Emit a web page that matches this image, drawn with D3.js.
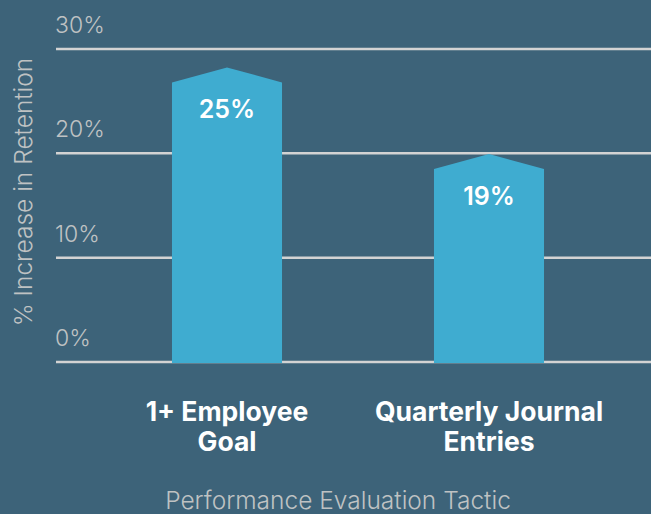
<!DOCTYPE html>
<html>
<head>
<meta charset="utf-8">
<script src="https://cdn.jsdelivr.net/npm/d3@7"></script>
<style>
  html, body { margin: 0; padding: 0; background: #3d6379; }
  svg { display: block; }
</style>
</head>
<body>
<svg id="chart" width="651" height="514"></svg>
<script>
// --- data ---
const categories = [["1+ Employee", "Goal"], ["Quarterly Journal", "Entries"]];
const valueLabels = ["25%", "19%"];
// bar heights as drawn in the original graphic (shoulder of the arrow shape)
const barValues = [26.8, 18.5];
const yTicks = [0, 10, 20, 30];

const yTitle = "% Increase in Retention";
const xTitle = "Performance Evaluation Tactic";

// --- layout ---
const W = 651, H = 514;
const GRID_LEFT = 56;
const PEAK = 15; // px the arrow tip sits above the shoulder
const BG = "#3d6379", BAR = "#3facd0", GRID = "#d3d3d3", MUTED = "#bfc2c3";
const FONT = "Inter, 'Open Sans', sans-serif";

const svg = d3.select("#chart");
svg.append("rect").attr("width", W).attr("height", H).attr("fill", BG);

const y = d3.scaleLinear().domain([0, 30]).range([362, 49]);
const x = d3.scaleBand()
    .domain(d3.range(categories.length))
    .range([96, 620])
    .paddingInner(0.58)
    .paddingOuter(0.29);

// gridlines + tick labels
const ticks = svg.append("g").selectAll("g").data(yTicks).enter().append("g");
ticks.append("line")
    .attr("x1", GRID_LEFT).attr("x2", W)
    .attr("y1", (d) => y(d)).attr("y2", (d) => y(d))
    .attr("stroke", GRID).attr("stroke-width", 2.5);
ticks.append("text")
    .attr("x", GRID_LEFT - 1).attr("y", (d) => y(d) - 16)
    .attr("fill", MUTED)
    .style("font-family", FONT).style("font-weight", 300).style("font-size", "23px")
    .text((d) => d + "%");

// bars (arrow-topped)
svg.append("g").selectAll("path").data(barValues).enter().append("path")
    .attr("fill", BAR)
    .attr("d", (d, i) => {
        const x0 = x(i), x1 = x(i) + x.bandwidth(), xm = x(i) + x.bandwidth() / 2;
        const top = y(d), base = y(0) + 1;
        return `M${x0},${base}V${top}L${xm},${top - PEAK}L${x1},${top}V${base}Z`;
    });

// value labels
svg.append("g").selectAll("text").data(barValues).enter().append("text")
    .attr("x", (d, i) => x(i) + x.bandwidth() / 2)
    .attr("y", (d) => y(d) + 36)
    .attr("text-anchor", "middle").attr("fill", "#ffffff")
    .style("font-family", FONT).style("font-weight", 600).style("font-size", "25px")
    .text((d, i) => valueLabels[i]);

// category labels
svg.append("g").selectAll("text").data(categories).enter().append("text")
    .attr("text-anchor", "middle").attr("fill", "#ffffff")
    .style("font-family", FONT).style("font-weight", 700).style("font-size", "26.5px")
    .selectAll("tspan")
    .data((d, i) => d.map((t) => ({ t, i })))
    .enter().append("tspan")
    .attr("x", (d) => x(d.i) + x.bandwidth() / 2)
    .attr("y", (d, j) => 421 + j * 30)
    .text((d) => d.t);

// axis titles
svg.append("text")
    .attr("transform", `translate(32,192) rotate(-90)`)
    .attr("text-anchor", "middle").attr("fill", MUTED)
    .style("font-family", FONT).style("font-weight", 300).style("font-size", "24.5px")
    .text(yTitle);

svg.append("text")
    .attr("x", 338).attr("y", 509)
    .attr("text-anchor", "middle").attr("fill", MUTED)
    .style("font-family", FONT).style("font-weight", 300).style("font-size", "24.5px")
    .text(xTitle);
</script>
</body>
</html>
